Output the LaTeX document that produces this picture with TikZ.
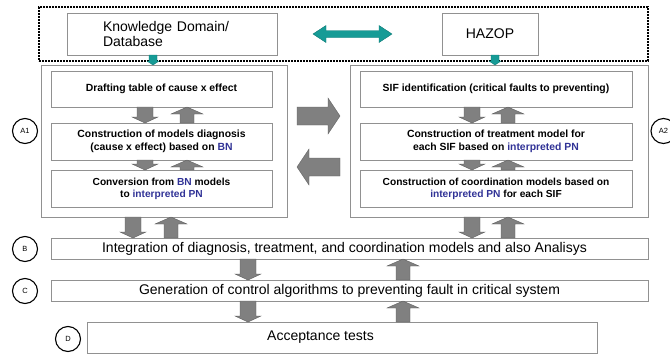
\documentclass[tikz,border=0pt]{standalone}
\usepackage{fontspec}
\setmainfont{Liberation Sans}
\usetikzlibrary{calc}
\definecolor{boxgray}{RGB}{145,145,145}
\definecolor{arrgray}{RGB}{128,128,128}
\definecolor{arredge}{RGB}{95,95,95}
\definecolor{pnblue}{RGB}{48,50,150}
\definecolor{tealc}{RGB}{22,155,150}
\definecolor{tealedge}{RGB}{10,120,115}
\newcommand\bl[1]{\textcolor{pnblue}{#1}}
% down block arrow: x, upper node, lower node
\newcommand\dnar[3]{\path[grayar] let \p1=(#2.south), \p2=(#3.north) in
  ({#1pt-8pt},{\y1}) -- ({#1pt+8pt},{\y1}) -- ({#1pt+8pt},{\y2+6pt}) -- ({#1pt+13pt},{\y2+6pt})
  -- ({#1pt},{\y2}) -- ({#1pt-13pt},{\y2+6pt}) -- ({#1pt-8pt},{\y2+6pt}) -- cycle;}
% up block arrow: x, upper node, lower node
\newcommand\upar[3]{\path[grayar] let \p1=(#2.south), \p2=(#3.north) in
  ({#1pt-7pt},{\y2}) -- ({#1pt+7pt},{\y2}) -- ({#1pt+7pt},{\y1-7pt}) -- ({#1pt+16pt},{\y1-7pt})
  -- ({#1pt},{\y1}) -- ({#1pt-16pt},{\y1-7pt}) -- ({#1pt-7pt},{\y1-7pt}) -- cycle;}
% small teal down arrow: x, upper node, lower node
\newcommand\tealdn[3]{\path[tealar] let \p1=(#2.south), \p2=(#3.north) in
  ({#1pt-4pt},{\y1}) -- ({#1pt+4pt},{\y1}) -- ({#1pt+4pt},{\y2+4pt}) -- ({#1pt+6pt},{\y2+4pt})
  -- ({#1pt},{\y2}) -- ({#1pt-6pt},{\y2+4pt}) -- ({#1pt-4pt},{\y2+4pt}) -- cycle;}
\begin{document}
\begin{tikzpicture}[x=1pt,y=-1pt,
  every node/.style={inner sep=0pt, outer sep=0pt},
  outerbox/.style={draw=boxgray, line width=1pt},
  innerbox/.style={draw=boxgray, line width=0.9pt, align=center,
     font=\fontsize{10.4}{12.6}\selectfont\bfseries},
  widebox/.style={draw=boxgray, line width=0.9pt, font=\fontsize{14}{16}\selectfont},
  topbox/.style={draw=boxgray, line width=0.9pt, font=\fontsize{14}{15.5}\selectfont},
  marker/.style={circle, draw=black, line width=1.1pt, minimum size=25pt,
     font=\fontsize{7.5}{9}\selectfont},
  grayar/.style={fill=arrgray, draw=arredge, line width=0.4pt},
  tealar/.style={fill=tealc, draw=tealedge, line width=0.4pt}]
\useasboundingbox (0,0) rectangle (670,354);

% top group
\node[draw=black, line width=2pt, dash pattern=on 1.6pt off 1.4pt,
      minimum width=609pt, minimum height=54pt] (grp) at (343.5,34) {};
\node[topbox, text width=138pt, inner xsep=36pt, align=left, minimum height=42pt] (know) at (172,34)
  {Knowledge Domain/\\Database};
\node[topbox, minimum width=96pt, minimum height=42pt] (hazop) at (490,34) {HAZOP};

% A1 / A2 groups
\node[outerbox, minimum width=246pt, minimum height=152pt] (a1) at (164,141) {};
\node[outerbox, minimum width=298pt, minimum height=152pt] (a2) at (499,141) {};

\node[innerbox, minimum width=221pt, minimum height=36pt] (draft) at (161.5,89)
  {Drafting table of cause x effect};
\node[innerbox, minimum width=221pt, minimum height=37pt] (diag) at (161.5,141.5)
  {Construction of models diagnosis\\(cause x effect) based on \bl{BN}};
\node[innerbox, minimum width=221pt, minimum height=37pt, font=\fontsize{10.2}{12}\selectfont\bfseries] (conv) at (161.5,188.5)
  {Conversion from \bl{BN} models\\to \bl{interpreted PN}};

\node[innerbox, minimum width=272pt, minimum height=36pt] (sif) at (496,89)
  {SIF identification (critical faults to preventing)};
\node[innerbox, minimum width=272pt, minimum height=37pt] (treat) at (496,141.5)
  {Construction of treatment model for\\each SIF based on \bl{interpreted PN}};
\node[innerbox, minimum width=272pt, minimum height=37pt, font=\fontsize{10.2}{12}\selectfont\bfseries] (coord) at (496,188.5)
  {Construction of coordination models based on\\\bl{interpreted PN} for each SIF};

% B, C, D
\node[widebox, minimum width=597pt, minimum height=21pt] (b) at (349.5,248.5)
  {Integration of diagnosis, treatment, and coordination models and also Analisys\kern10pt};
\node[widebox, minimum width=597pt, minimum height=21pt] (c) at (349.5,290.5)
  {Generation of control algorithms to preventing fault in critical system};
\node[widebox, minimum width=510pt, minimum height=31pt] (d) at (342,337.5)
  {Acceptance tests\kern43pt};

% markers
\node[marker] (ma1) at (25,131) {A1};
\node[marker] (ma2) at (663.5,131) {A2};
\node[marker] (mb) at (25,249) {B};
\node[marker] (mc) at (25,291) {C};
\node[marker] (md) at (68,339) {D};

% teal arrows
\path[tealar] let \p1=(know.east), \p2=(hazop.west) in
  ({\x1+36pt},{\y1}) -- ({\x1+49pt},{\y1+8.5pt}) -- ({\x1+49pt},{\y1+3.5pt})
  -- ({\x2-63pt},{\y1+3.5pt}) -- ({\x2-63pt},{\y1+8.5pt}) -- ({\x2-50pt},{\y1})
  -- ({\x2-63pt},{\y1-8.5pt}) -- ({\x2-63pt},{\y1-3.5pt}) -- ({\x1+49pt},{\y1-3.5pt})
  -- ({\x1+49pt},{\y1-8.5pt}) -- cycle;
\tealdn{153}{know}{a1}
\tealdn{495}{hazop}{a2}

% gray arrows inside A1 and A2
\dnar{145}{draft}{diag}
\upar{187}{draft}{diag}
\dnar{145}{diag}{conv}
\upar{187}{diag}{conv}
\dnar{472}{sif}{treat}
\upar{508}{sif}{treat}
\dnar{472}{treat}{coord}
\upar{508}{treat}{coord}

% big arrows between A1 and A2
\path[grayar] let \p1=(a1.east), \p2=(a2.west) in
  ({\x1+10pt},{-107pt}) -- ({\x2-22pt},{-107pt}) -- ({\x2-22pt},{-98pt}) -- ({\x2-10pt},{-116pt})
  -- ({\x2-22pt},{-134pt}) -- ({\x2-22pt},{-125pt}) -- ({\x1+10pt},{-125pt}) -- cycle;
\path[grayar] let \p1=(a1.east), \p2=(a2.west) in
  ({\x2-10pt},{-158pt}) -- ({\x1+22pt},{-158pt}) -- ({\x1+22pt},{-149pt}) -- ({\x1+10pt},{-167pt})
  -- ({\x1+22pt},{-185pt}) -- ({\x1+22pt},{-176pt}) -- ({\x2-10pt},{-176pt}) -- cycle;

% arrows to B, C, D
\dnar{133}{a1}{b}
\upar{171}{a1}{b}
\dnar{472}{a2}{b}
\upar{508}{a2}{b}
\dnar{248}{b}{c}
\upar{403}{b}{c}
\dnar{248}{c}{d}
\upar{403}{c}{d}
\end{tikzpicture}
\end{document}
